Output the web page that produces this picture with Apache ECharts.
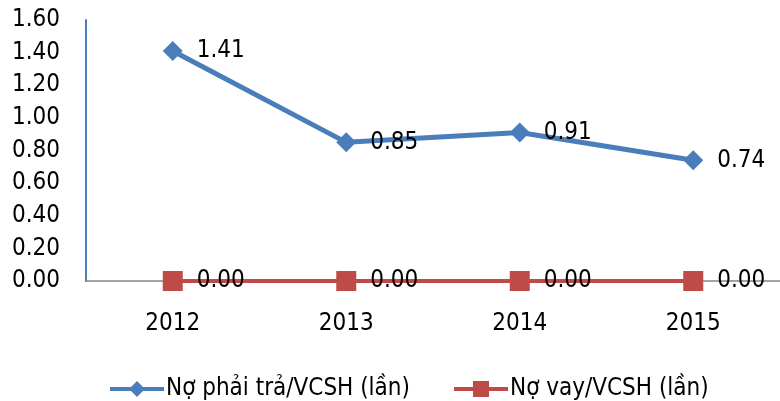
<!DOCTYPE html>
<html><head><meta charset="utf-8">
<script src="https://cdn.jsdelivr.net/npm/echarts@6/dist/echarts.min.js"></script>
<style>html,body{margin:0;padding:0;background:#fff}#c{width:780px;height:401px}</style>
</head><body><div id="c"></div>
<script>
var categories = ['2012', '2013', '2014', '2015'];
var seriesNames = ['Nợ phải trả/VCSH (lần)', 'Nợ vay/VCSH (lần)'];
var noPhaiTra = [1.41, 0.85, 0.91, 0.74];
var noVay = [0.00, 0.00, 0.00, 0.00];
var yTicks = [0, 0.2, 0.4, 0.6, 0.8, 1.0, 1.2, 1.4, 1.6];

var FONT = '"DejaVu Sans Condensed", "DejaVu Sans", sans-serif';
var FS = 24;
var chart = echarts.init(document.getElementById('c'));
function legendFor(name, left) {
  return {
    top: 372, left: left, itemWidth: 54, itemHeight: 20, itemGap: 0,
    lineStyle: { width: 4 },
    textStyle: { color: '#000', fontSize: 24, fontFamily: FONT, padding: [0, 0, 0, -3] },
    data: [name]
  };
}
chart.setOption({
  animation: false,
  textStyle: { fontFamily: FONT },
  grid: { left: 86, top: 20, width: 698, height: 261, containLabel: false },
  xAxis: {
    type: 'category', data: categories, boundaryGap: true,
    axisLine: { lineStyle: { color: '#868686', width: 1.5 } },
    axisTick: { show: false },
    axisLabel: { color: '#000', fontSize: FS, fontFamily: FONT, margin: 31 }
  },
  yAxis: {
    type: 'value', min: yTicks[0], max: yTicks[yTicks.length - 1], interval: 0.2,
    axisLine: { show: true, lineStyle: { color: '#4a7ebb', width: 2 } },
    axisTick: { show: false },
    splitLine: { show: false },
    axisLabel: { color: '#000', fontSize: FS, fontFamily: FONT, margin: 26,
      formatter: function (v) { return v.toFixed(2); } }
  },
  legend: [legendFor(seriesNames[0], 103), legendFor(seriesNames[1], 447)],
  series: [
    {
      name: seriesNames[0], type: 'line', data: noPhaiTra,
      symbol: 'diamond', symbolSize: 20,
      lineStyle: { color: '#4a7ebb', width: 5 },
      itemStyle: { color: '#4a7ebb' },
      label: { show: true, position: 'right', distance: 14, color: '#000', fontSize: FS, fontFamily: FONT,
        formatter: function (p) { return p.value.toFixed(2); } }
    },
    {
      name: seriesNames[1], type: 'line', data: noVay,
      symbol: 'rect', symbolSize: 20,
      lineStyle: { color: '#be4b48', width: 4 },
      itemStyle: { color: '#be4b48' },
      label: { show: true, position: 'right', distance: 14, color: '#000', fontSize: FS, fontFamily: FONT,
        formatter: function (p) { return p.value.toFixed(2); } }
    }
  ]
});
</script></body></html>
